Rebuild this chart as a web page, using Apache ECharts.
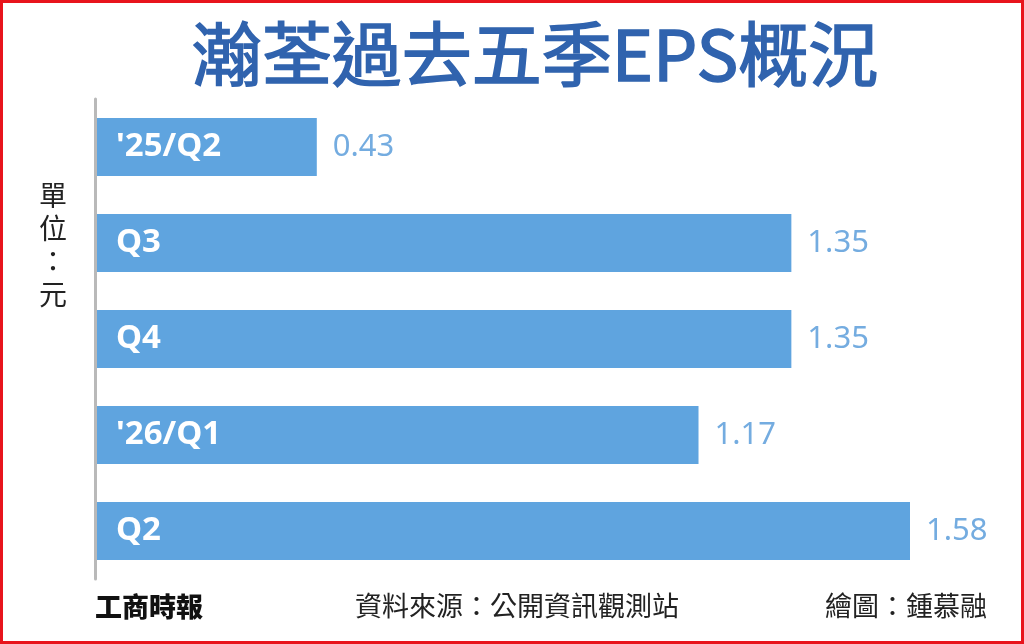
<!DOCTYPE html>
<html>
<head>
<meta charset="utf-8">
<script src="https://cdn.jsdelivr.net/npm/echarts@6/dist/echarts.min.js"></script>
<style>
  html, body { margin: 0; padding: 0; background: #fff; }
  #chart { width: 1024px; height: 644px; box-sizing: border-box; border: 3px solid #e8141c; }
</style>
</head>
<body>
<div id="chart"></div>
<script>
// 瀚荃過去五季EPS（元）
var quarters = ["'25/Q2", 'Q3', 'Q4', "'26/Q1", 'Q2'];
var eps = [0.43, 1.35, 1.35, 1.17, 1.58];

var chart = echarts.init(document.getElementById('chart'));
var cjk = '"Noto Sans CJK TC", "Noto Sans", sans-serif';

chart.setOption({
  animation: false,
  grid: { left: 92, right: 111, top: 96, height: 480 },
  xAxis: {
    type: 'value',
    min: 0,
    max: 1.58,
    show: false
  },
  yAxis: {
    type: 'category',
    data: quarters,
    inverse: true,
    z: 10,
    axisLine: { show: true, lineStyle: { color: '#b9b9b9', width: 3 } },
    axisTick: { show: false },
    axisLabel: {
      inside: true,
      margin: 21,
      color: '#ffffff',
      fontSize: 33,
      fontWeight: 'bold',
      fontFamily: '"Noto Sans", sans-serif'
    }
  },
  series: [{
    type: 'bar',
    data: eps,
    barWidth: 58,
    itemStyle: { color: '#5fa4df' },
    label: {
      show: true,
      position: 'right',
      distance: 16,
      color: '#74ace0',
      fontSize: 31,
      fontFamily: '"Noto Sans", sans-serif'
    }
  }],
  graphic: [
    {
      type: 'text', left: 188, top: 16,
      style: {
        text: '瀚荃過去五季EPS概況', fill: '#3063ae', font: 'normal 70px ' + cjk,
        stroke: '#3063ae', lineWidth: 1.6
      }
    },
    {
      type: 'text', left: 36, top: 176,
      style: { text: '單\n位\n：\n元', fill: '#222', font: '28px ' + cjk, lineHeight: 33, align: 'center' }
    },
    {
      type: 'text', left: 92, top: 590,
      style: { text: '工商時報', fill: '#111', font: '900 27px ' + cjk }
    },
    {
      type: 'text', left: 352, top: 589,
      style: { text: '資料來源：公開資訊觀測站', fill: '#222', font: '27px ' + cjk }
    },
    {
      type: 'text', right: 34, top: 589,
      style: { text: '繪圖：鍾慕融', fill: '#222', font: '27px ' + cjk }
    }
  ]
});
</script>
</body>
</html>
